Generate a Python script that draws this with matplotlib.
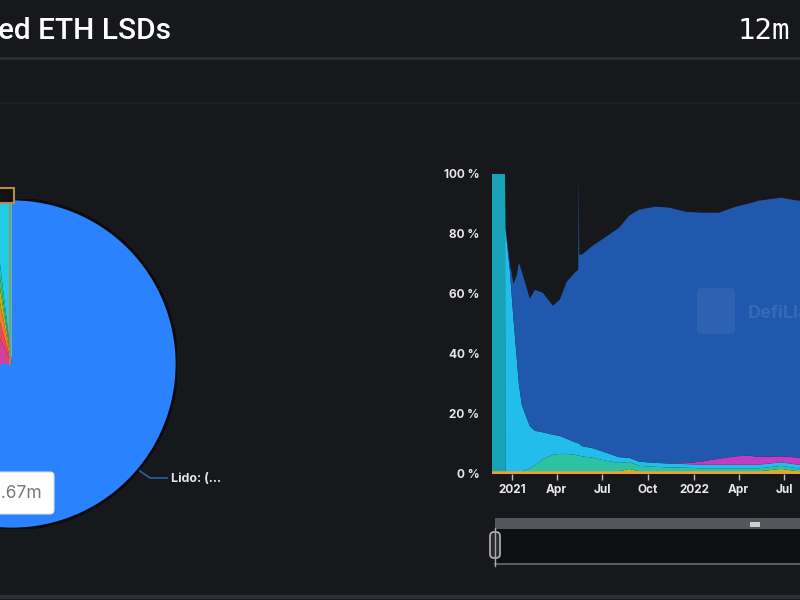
import numpy as np
import pandas as pd
import matplotlib
matplotlib.use('Agg')
import matplotlib.pyplot as plt
from matplotlib.patches import Rectangle, FancyBboxPatch, Circle
from matplotlib.lines import Line2D

plt.rcParams['font.family'] = ['Inter', 'DejaVu Sans']

BG = '#17181c'

# pie: share of staked ETH
pie_names = ['Lido', 'Swell', 'Stafi', 'Ankr', 'Frax Ether', 'StakeWise', 'Rocket Pool', 'Coinbase']
pie_values = [75.0, 18.05, 2.5, 1.4, 0.55, 0.3, 0.3, 1.9]
pie_colors = ['#2a82ff', '#d4409c', '#ee4660', '#ec7e2c', '#c6b026', '#62c23e', '#22c6a2', '#22cbe6']

# area chart: dominance (%) of each LSD over time
dates = ['2020-11-20', '2020-12-18', '2020-12-19', '2020-12-28', '2021-01-04', '2021-01-11',
         '2021-01-15', '2021-01-21', '2021-02-06', '2021-02-16', '2021-03-04', '2021-03-24',
         '2021-04-07', '2021-04-21', '2021-05-07', '2021-05-14', '2021-05-15', '2021-05-16',
         '2021-05-21', '2021-06-12', '2021-07-09', '2021-08-04', '2021-08-24', '2021-09-13',
         '2021-10-15', '2021-11-12', '2021-12-16', '2022-01-15', '2022-02-20', '2022-03-26',
         '2022-04-20', '2022-05-11', '2022-06-25', '2022-07-29', '2022-09-27']
stafi = [0.9, 0.9, 0.9, 0.9, 0.9, 0.9, 0.9, 0.9, 0.9, 0.9, 0.9, 0.9, 0.9, 0.9, 0.9, 0.9, 0.9, 0.9,
         0.9, 0.9, 0.9, 0.9, 0.9, 0.9, 0.9, 0.9, 0.9, 0.9, 0.9, 0.9, 0.9, 0.9, 0.9, 0.9, 0.9]
stakehound = [99.1, 99.1, 0, 0, 0, 0, 0, 0, 0, 0, 0, 0, 0, 0, 0, 0, 0, 0,
              0, 0, 0, 0, 0, 0, 0, 0, 0, 0, 0, 0, 0, 0, 0, 0, 0]
sharedstake = [0, 0, 0, 0, 0, 0, 0, 0, 0, 0, 0, 0, 0, 0, 0, 0, 0, 0,
               0, 0, 0, 0, 0.8, 0, 0, 0, 0, 0, 0, 0, 0, 0, 0.8, 0, 0]
stakewise = [0, 0, 0, 0, 0, 0, 0, 0, 1, 2, 4, 5.5, 5.8, 5.8, 5.5, 5.3, 5.3, 5.2,
             5, 4.5, 3.5, 2.8, 2.3, 1.8, 1.5, 1.3, 1.2, 1, 1, 1, 1, 1, 1, 1, 1]
ankr = [0, 0, 81, 66.5, 51, 37, 29, 22, 14, 11.5, 9, 6.7, 6, 5, 4.2, 4, 4, 4,
        3.4, 3.2, 2.7, 1.9, 1.4, 1.4, 1.3, 1.3, 1.2, 1.2, 1.2, 1.2, 1.2, 1.2, 1.2, 1.2, 1.2]
rocketpool = [0, 0, 0, 0, 0, 0, 0, 0, 0, 0, 0, 0, 0, 0, 0, 0, 0, 0,
              0, 0, 0, 0, 0, 0, 0, 0, 0.3, 1.0, 2.0, 2.8, 3.0, 2.6, 2.0, 2.4, 2.4]
lido = [0, 0, 0, 2.5, 11.5, 28.5, 40.5, 44.5, 42.5, 47, 46.5, 43, 45.4, 52.4, 56.5, 57.9, 89.9, 63,
        63.8, 67.5, 72, 76.5, 80.7, 84, 85.4, 85.3, 83.8, 83, 82, 83.2, 84, 85.4, 86.2, 85.6, 85.6]
area_colors = ['#f0a032', '#18a4b6', '#a6c232', '#2cc2a2', '#22bdeb', '#c23cc4', '#2058ae']

tick_dates = ['2021-01-01', '2021-04-01', '2021-07-01', '2021-10-01',
              '2022-01-01', '2022-04-01', '2022-07-01', '2022-10-01']
tick_labels = ['2021', 'Apr', 'Jul', 'Oct', '2022', 'Apr', 'Jul', 'Oct']
y_ticks = [0, 20, 40, 60, 80, 100]
y_labels = ['0 %', '20 %', '40 %', '60 %', '80 %', '100 %']

fig = plt.figure(figsize=(8, 6), dpi=100, facecolor=BG)
T = fig.dpi_scale_trans


def px(x, y):
    # pixel position (from top-left) -> inches for dpi_scale_trans
    return x / 100.0, (600 - y) / 100.0


# header
fig.text(*px(-2, 31), 'ed ETH LSDs', transform=T, color='white', fontsize=21.5,
         fontweight='medium', family=['Roboto', 'DejaVu Sans'], va='center', ha='left')
fig.text(*px(790, 31), '12m', transform=T, color='white', fontsize=21,
         family='DejaVu Sans Mono', va='center', ha='right')
fig.add_artist(Line2D([0, 8], [px(0, 58)[1]] * 2, transform=T, color='#2e2f35', lw=2))
fig.add_artist(Line2D([0, 8], [px(0, 103)[1]] * 2, transform=T, color='#202126', lw=1.2))
fig.add_artist(Line2D([0, 8], [px(0, 597)[1]] * 2, transform=T, color='#2e2f35', lw=3))

# pie
pax = fig.add_axes([(12 - 165) / 800, (600 - 364 - 165) / 600, 330 / 800, 330 / 600])
pax.set_facecolor('none')
pax.pie(pie_values, colors=pie_colors, startangle=90, counterclock=False, radius=1,
        wedgeprops=dict(linewidth=0))
pax.add_patch(Circle((0, 0), 1.0, fill=False, edgecolor='#0b0b0d', lw=2))
pax.plot([-0.01, -0.01], [0, 1.0], color='#b08a52', lw=1.2)
pax.set_xlim(-1, 1)
pax.set_ylim(-1, 1)
pax.set_aspect('equal')
pax.axis('off')

fig.add_artist(Rectangle(px(-3, 203), 0.17, 0.15, transform=T, facecolor='#111214',
                         edgecolor='#b8894a', lw=1.5))

# Lido label with leader
fig.add_artist(Line2D([1.40, 1.50, 1.67], [px(0, 471)[1], px(0, 478)[1], px(0, 478)[1]],
                      transform=T, color='#2a5fa8', lw=1.2))
fig.text(*px(171, 479), 'Lido: (...', transform=T, color='#e6e6e6', fontsize=9,
         fontweight='bold', va='center', ha='left')

# tooltip
fig.add_artist(FancyBboxPatch(px(-20, 514), 0.74, 0.42, transform=T,
                              boxstyle='round,pad=0,rounding_size=0.04',
                              facecolor='white', edgecolor='#dddddd', lw=0.8))
fig.text(*px(42, 493), 'Lido: 11.67m', transform=T, color='#777777', fontsize=12.5,
         va='center', ha='right')

# area chart
ax = fig.add_axes([492 / 800, (600 - 474) / 600, (830 - 492) / 800, 300 / 600])
ax.set_facecolor(BG)
x = pd.to_datetime(dates)
ax.stackplot(x, stafi, stakehound, sharedstake, stakewise, ankr, rocketpool, lido,
             colors=area_colors, linewidth=0)
ax.set_xlim(pd.Timestamp('2020-11-22'), pd.Timestamp('2022-09-27'))
ax.set_ylim(0, 100)
ax.set_xticks(pd.to_datetime(tick_dates))
ax.set_xticklabels(tick_labels)
ax.set_yticks(y_ticks)
ax.set_yticklabels(y_labels)
ax.tick_params(axis='x', colors='#bbbbbb', labelcolor='#e8e8e8', length=4, width=1,
               labelsize=8.5, pad=3)
ax.tick_params(axis='y', length=0, labelcolor='#e8e8e8', labelsize=8.5, pad=9)
for t in ax.get_xticklabels() + ax.get_yticklabels():
    t.set_fontweight('bold')
for s in ax.spines.values():
    s.set_visible(False)

# watermark
fig.add_artist(FancyBboxPatch(px(697, 334), 0.38, 0.46, transform=T,
                              boxstyle='round,pad=0,rounding_size=0.04',
                              facecolor='white', alpha=0.06, lw=0))
fig.text(*px(748, 313), 'DefiLlama', transform=T, color='white', alpha=0.1,
         fontsize=13, fontweight='bold', va='center', ha='left')

# range slider
fig.add_artist(Rectangle(px(495, 529), 3.4, 0.11, transform=T, facecolor='#55565c', lw=0))
fig.add_artist(Rectangle(px(495, 563), 3.4, 0.34, transform=T, facecolor='#0e0f12', lw=0))
fig.add_artist(Line2D([4.95, 8.4], [px(0, 564)[1]] * 2, transform=T, color='#5a5b60', lw=1.5))
fig.add_artist(Rectangle(px(750, 527), 0.1, 0.05, transform=T, facecolor='#cfcfcf', lw=0))
fig.add_artist(Line2D([4.95, 4.95], [px(0, 528)[1], px(0, 566)[1]], transform=T,
                      color='#aaaaaa', lw=1))
fig.add_artist(FancyBboxPatch(px(490, 558), 0.1, 0.26, transform=T,
                              boxstyle='round,pad=0,rounding_size=0.04',
                              facecolor='#2a2b30', edgecolor='#b5b5b5', lw=1.2))

fig.savefig('out.png', dpi=100, facecolor=BG)
